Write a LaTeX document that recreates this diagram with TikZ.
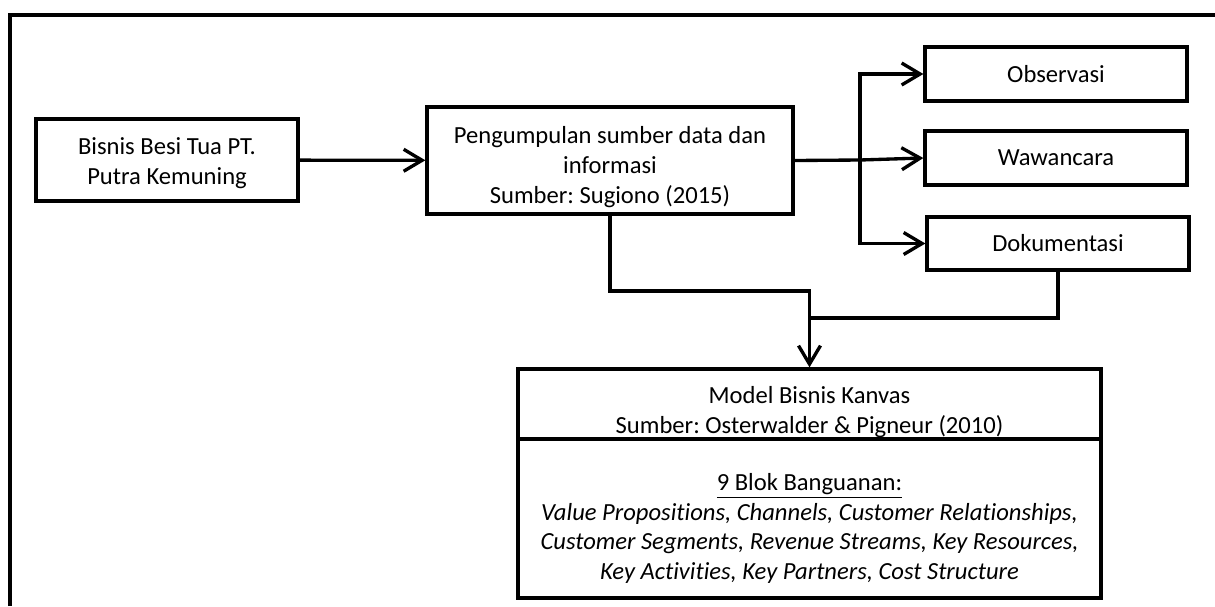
\documentclass[tikz,border=0pt]{standalone}
\usepackage{fontspec}
\setmainfont{Carlito}[Ligatures=NoCommon]
\frenchspacing
\usetikzlibrary{arrows.meta}

\begin{document}
\begin{tikzpicture}[x=0.02cm, y=-0.02cm,
  box/.style={draw, line width=1.9pt, align=center, inner sep=0pt,
    font=\fontsize{14}{17}\selectfont},
  link/.style={line width=1.9pt, -{Straight Barb[length=10.5pt,width=12.5pt]}}]

\useasboundingbox (0,0) rectangle (1215,606);

% Draw the outer frame
\draw[line width=2.4pt] (10,606) -- (10,15) -- (1215,15);

% Define the boxes (the rule on the first line pushes the text down a little)
\node[box, minimum width=5.24cm, minimum height=1.64cm] (bisnis) at (167,160)
  {\rule{0pt}{13pt}Bisnis Besi Tua PT.\\ Putra Kemuning};
\node[box, minimum width=7.32cm, minimum height=2.14cm] (pengumpulan) at (610,160.5)
  {\rule{0pt}{17pt}Pengumpulan sumber data dan\\ informasi\\ Sumber: Sugiono (2015)};
\node[box, minimum width=5.24cm, minimum height=1.08cm] (observasi) at (1056,74) {Observasi};
\node[box, minimum width=5.24cm, minimum height=1.08cm] (wawancara) at (1056,158) {Wawancara};
\node[box, minimum width=5.24cm, minimum height=1.06cm] (dokumentasi) at (1058,243.5) {Dokumentasi};

% The canvas box, split in two parts
\node[box, minimum width=11.66cm, minimum height=1.4cm] (mtop) at (809.5,404)
  {\rule{0pt}{19pt}Model Bisnis Kanvas\\ Sumber: Osterwalder \& Pigneur (2010)};
\node[box, minimum width=11.66cm, minimum height=3.18cm] (mbot) at (809.5,518.5)
  {\rule{0pt}{21pt}\underline{9 Blok Banguanan:}\\
   \textit{Value Propositions, Channels, Customer Relationships,}\\
   \textit{Customer Segments, Revenue Streams, Key Resources,}\\
   \textit{Key Activities, Key Partners, Cost Structure}};

% Helper points for the elbows
\coordinate (split) at (860,160);
\coordinate (join) at (809.5,291);
\coordinate (merge) at (809.5,318);

% Draw the connectors
\draw[link] (bisnis) -- (pengumpulan);
\draw[line width=1.9pt] (pengumpulan.east) -- (split);
\draw[link] (split) |- (observasi.west);
\draw[link] (split) -- (wawancara.west);
\draw[link] (split) |- (dokumentasi.west);
\draw[link] (pengumpulan.south) |- (join) -- (mtop.north);
\draw[line width=1.9pt] (dokumentasi.south) |- (merge);

\end{tikzpicture}
\end{document}
